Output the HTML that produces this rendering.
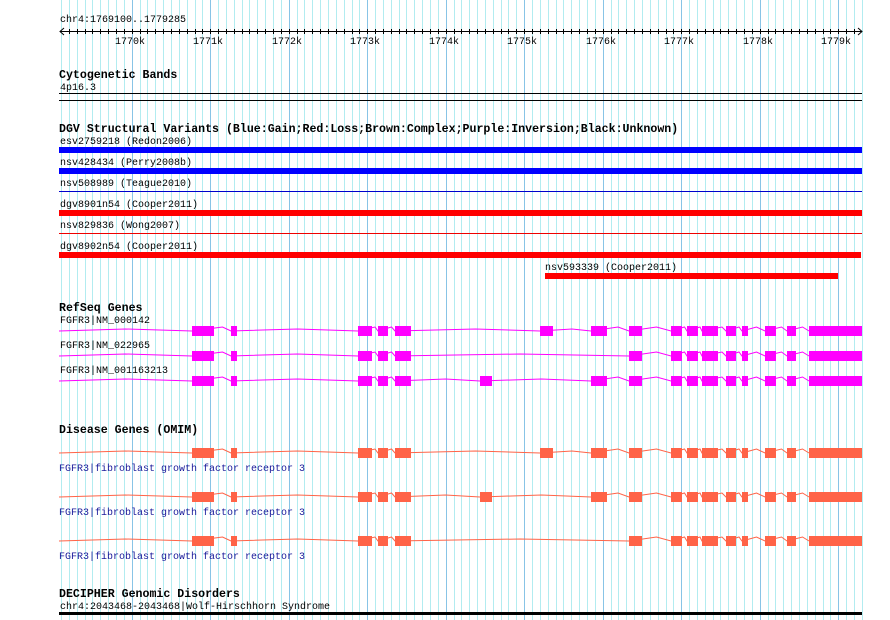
<!DOCTYPE html>
<html><head><meta charset="utf-8"><style>
html,body{margin:0;padding:0;background:#fff;}
svg{display:block;}
text{font-family:"Liberation Mono","DejaVu Sans Mono",monospace;font-size:10px;fill:#000;}
.b{font-weight:bold;font-size:11.6px;}
.o{fill:#1a1a9a;}
</style></head><body>
<svg id="s" width="890" height="620" xmlns="http://www.w3.org/2000/svg" shape-rendering="crispEdges">
<g id="grid"></g>
<text x="60" y="22">chr4:1769100..1779285</text>
<g id="ruler"></g>
<text x="115" y="44">1770k</text><text x="193" y="44">1771k</text><text x="272" y="44">1772k</text><text x="350" y="44">1773k</text><text x="429" y="44">1774k</text><text x="507" y="44">1775k</text><text x="586" y="44">1776k</text><text x="664" y="44">1777k</text><text x="743" y="44">1778k</text><text x="821" y="44">1779k</text>
<text class="b" x="59" y="78">Cytogenetic Bands</text>
<text x="60" y="90">4p16.3</text>
<rect x="59" y="93" width="803" height="1" fill="#000"/>
<rect x="59" y="100" width="803" height="1" fill="#000"/>
<text class="b" x="59" y="132">DGV Structural Variants (Blue:Gain;Red:Loss;Brown:Complex;Purple:Inversion;Black:Unknown)</text>
<text x="60" y="144">esv2759218 (Redon2006)</text>
<rect x="59" y="147" width="803" height="6" fill="#0000ff"/>
<text x="60" y="165">nsv428434 (Perry2008b)</text>
<rect x="59" y="168" width="803" height="6" fill="#0000ff"/>
<text x="60" y="186">nsv508989 (Teague2010)</text>
<rect x="59" y="191" width="803" height="1" fill="#0000cc"/>
<text x="60" y="207">dgv8901n54 (Cooper2011)</text>
<rect x="59" y="210" width="803" height="6" fill="#ff0000"/>
<text x="60" y="228">nsv829836 (Wong2007)</text>
<rect x="59" y="233" width="803" height="1" fill="#ee0000"/>
<text x="60" y="249">dgv8902n54 (Cooper2011)</text>
<rect x="59" y="252" width="802" height="6" fill="#ff0000"/>
<text x="545" y="270">nsv593339 (Cooper2011)</text>
<rect x="545" y="273" width="293" height="6" fill="#ff0000"/>
<text class="b" x="59" y="311">RefSeq Genes</text>
<text x="60" y="323">FGFR3|NM_000142</text>
<text x="60" y="348">FGFR3|NM_022965</text>
<text x="60" y="373">FGFR3|NM_001163213</text>
<g id="genes"></g>
<text class="b" x="59" y="433">Disease Genes (OMIM)</text>
<text class="o" x="59" y="471">FGFR3|fibroblast growth factor receptor 3</text>
<text class="o" x="59" y="515">FGFR3|fibroblast growth factor receptor 3</text>
<text class="o" x="59" y="559">FGFR3|fibroblast growth factor receptor 3</text>
<text class="b" x="59" y="597">DECIPHER Genomic Disorders</text>
<text x="60" y="609">chr4:2043468-2043468|Wolf-Hirschhorn Syndrome</text>
<rect x="59" y="612" width="803" height="3" fill="#000"/>
</svg>
<script>
var NS="http://www.w3.org/2000/svg";
function el(p,t,a){var e=document.createElementNS(NS,t);for(var k in a)e.setAttribute(k,a[k]);document.getElementById(p).appendChild(e);return e;}
for(var i=-9;i<=93;i++){var x=Math.round(131.7+i*7.85);if(x<60||x>862)continue;
 el("grid","rect",{x:x,y:0,width:1,height:620,fill:(i%10==0)?"#88c4e6":"#b2ecf0"});}
el("ruler","rect",{x:60,y:31,width:802,height:1,fill:"#000"});
for(var i=-9;i<=93;i++){var x=Math.round(131.7+i*7.85);if(x<62||x>860)continue;
 el("ruler","rect",{x:x,y:29,width:1,height:5,fill:"#000"});}
el("ruler","polyline",{points:"64,28 60,31.5 64,35",fill:"none",stroke:"#000","shape-rendering":"auto"});
el("ruler","polyline",{points:"858,28 862,31.5 858,35",fill:"none",stroke:"#000","shape-rendering":"auto"});
var L=[[192,214],[231,237],[358,372],[378,388],[395,411]];
var R=[[629,642],[671,682],[687,698],[702,718],[726,736],[742,748],[765,776],[787,796],[809,862]];
var pats=[L.concat([[540,553],[591,607]],R),L.concat(R),L.concat([[480,492],[591,607]],R)];
pats.forEach(function(p){p.sort(function(a,b){return a[0]-b[0];});});
function gene(p,y,h,col){
 var c=y+h/2;var pts="59,"+c;var prev=59;
 p.forEach(function(e){var g=e[0]-prev;if(g>2){pts+=" "+(prev+g/2)+","+(c-(g<30?4:2))+" "+e[0]+","+c;}prev=e[1];});
 el("genes","polyline",{points:pts,fill:"none",stroke:col,"stroke-width":1,"shape-rendering":"auto"});
 p.forEach(function(e){el("genes","rect",{x:e[0],y:y,width:e[1]-e[0],height:h,fill:col});});
}
gene(pats[0],326,10,"#ff00ff");gene(pats[1],351,10,"#ff00ff");gene(pats[2],376,10,"#ff00ff");
gene(pats[0],448,10,"#ff6347");gene(pats[2],492,10,"#ff6347");gene(pats[1],536,10,"#ff6347");
</script>
</body></html>
